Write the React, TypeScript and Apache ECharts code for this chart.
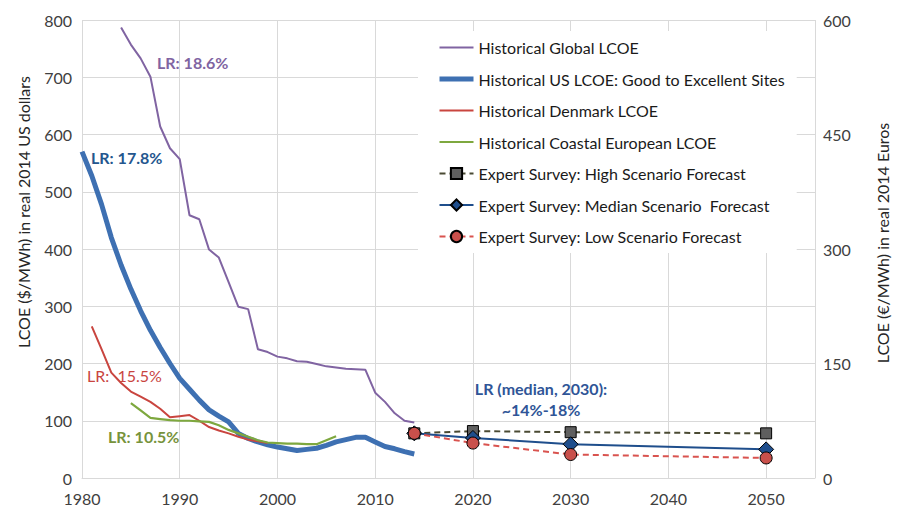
import React, { useEffect, useRef } from "react";
import * as echarts from "echarts";

const globalYears = [1984, 1985, 1986, 1987, 1988, 1989, 1990, 1991, 1992, 1993, 1994, 1995, 1996, 1997, 1998, 1999, 2000, 2001, 2002, 2003, 2004, 2005, 2006, 2007, 2008, 2009, 2010, 2011, 2012, 2013, 2014];
const globalLcoe = [787, 757, 733, 701, 614, 576, 557, 459, 452, 399, 385, 342, 299, 295, 225, 220, 212, 209, 204, 203, 199, 195, 193, 191, 190, 189, 149, 133, 113, 100, 97];

const usYears = [1980, 1981, 1982, 1983, 1984, 1985, 1986, 1987, 1988, 1989, 1990, 1991, 1992, 1993, 1994, 1995, 1996, 1997, 1998, 1999, 2000, 2001, 2002, 2003, 2004, 2005, 2006, 2007, 2008, 2009, 2010, 2011, 2012, 2013, 2014];
const usLcoe = [570, 528, 478, 420, 372, 330, 292, 258, 228, 200, 174, 155, 136, 119, 108, 98, 78, 69, 63, 58, 54, 51, 48, 50, 52, 57, 63, 67, 71, 71, 63, 55, 51, 46, 42];

const denmarkYears = [1981, 1982, 1983, 1984, 1985, 1986, 1987, 1988, 1989, 1990, 1991, 1992, 1993, 1994, 1995, 1996, 1997, 1998, 1999];
const denmarkLcoe = [265, 225, 184, 166, 151, 142, 133, 121, 106, 108, 110, 100, 89, 83, 78, 72, 67, 64, 61];

const coastalYears = [1985, 1986, 1987, 1988, 1989, 1990, 1991, 1992, 1993, 1994, 1995, 1996, 1997, 1998, 1999, 2000, 2001, 2002, 2003, 2004, 2005, 2006];
const coastalLcoe = [131, 118, 105, 103, 101, 100, 100, 99, 98, 92, 84, 78, 72, 66, 62, 61, 60, 60, 59, 59, 66, 73];

const forecastYears = [2014, 2020, 2030, 2050];
const highForecast = [78, 82, 80, 78];
const medianForecast = [78, 70, 59, 50];
const lowForecast = [78, 61, 41, 35];

const seriesNames = [
  "Historical Global LCOE",
  "Historical US LCOE: Good to Excellent Sites",
  "Historical Denmark LCOE",
  "Historical Coastal European LCOE",
  "Expert Survey: High Scenario Forecast",
  "Expert Survey: Median Scenario  Forecast",
  "Expert Survey: Low Scenario Forecast",
];

const leftAxisName = "LCOE ($/MWh) in real 2014 US dollars";
const rightAxisName = "LCOE (€/MWh) in real 2014 Euros";

const zip = (xs: number[], ys: number[]) => xs.map((x, i) => [x, ys[i]]);

const FONT = "Lato, 'Noto Sans', sans-serif";

function txt(text: string, x: number, y: number, color: string, bold: boolean, align = "left", rotation = 0) {
  return {
    type: "text",
    x,
    y,
    rotation,
    z: 10,
    style: {
      text,
      fill: color,
      font: `${bold ? "bold " : ""}16px ${FONT}`,
      align,
      verticalAlign: "middle",
      textAlign: align,
      textVerticalAlign: "middle",
    },
  };
}

export default function App() {
  const ref = useRef<HTMLDivElement>(null);
  useEffect(() => {
    if (!ref.current) return;
    const chart = echarts.init(ref.current, null, { renderer: "svg" });
    const axisLabelStyle = { color: "#404040", fontSize: 16, fontFamily: FONT };
    const lineWidths = [2, 5, 2, 2.2];
    chart.setOption({
      animation: false,
      backgroundColor: "#ffffff",
      textStyle: { fontFamily: FONT },
      grid: { left: 82, right: 85, top: 20, bottom: 44, containLabel: false },
      xAxis: {
        type: "value",
        min: 1980,
        max: 2055,
        interval: 10,
        axisLine: { show: true, lineStyle: { color: "#D9D9D9" } },
        axisTick: { show: false },
        splitLine: { show: true, lineStyle: { color: "#D9D9D9", width: 1 } },
        axisLabel: {
          ...axisLabelStyle,
          margin: 12,
          showMaxLabel: false,
          formatter: (v: number) => (v % 10 === 0 ? String(v) : ""),
        },
      },
      yAxis: [
        {
          type: "value",
          min: 0,
          max: 800,
          interval: 100,
          position: "left",
          axisLine: { show: false },
          axisTick: { show: false },
          splitLine: { show: true, lineStyle: { color: "#D9D9D9", width: 1 } },
          axisLabel: { ...axisLabelStyle, margin: 10 },
        },
        {
          type: "value",
          min: 0,
          max: 600,
          interval: 150,
          position: "right",
          axisLine: { show: false },
          axisTick: { show: false },
          splitLine: { show: false },
          axisLabel: { ...axisLabelStyle, margin: 8 },
        },
      ],
      legend: {
        orient: "vertical",
        left: 418,
        top: 31,
        padding: [8, 12, 8, 19],
        backgroundColor: "#ffffff",
        itemWidth: 34,
        itemHeight: 14,
        itemGap: 14.5,
        selectedMode: false,
        textStyle: { color: "#1a1a1a", fontSize: 16, fontFamily: FONT, lineHeight: 17 },
        data: seriesNames.map((name, i) =>
          i < 4
            ? { name, itemStyle: { opacity: 0 }, lineStyle: { width: lineWidths[i] } }
            : { name }
        ),
      },
      series: [
        {
          name: seriesNames[0],
          type: "line",
          symbol: "none",
          data: zip(globalYears, globalLcoe),
          lineStyle: { color: "#8064A2", width: lineWidths[0] },
          itemStyle: { color: "#8064A2" },
        },
        {
          name: seriesNames[1],
          type: "line",
          symbol: "none",
          data: zip(usYears, usLcoe),
          lineStyle: { color: "#3E70B2", width: lineWidths[1] },
          itemStyle: { color: "#3E70B2" },
        },
        {
          name: seriesNames[2],
          type: "line",
          symbol: "none",
          data: zip(denmarkYears, denmarkLcoe),
          lineStyle: { color: "#C9453F", width: lineWidths[2] },
          itemStyle: { color: "#C9453F" },
        },
        {
          name: seriesNames[3],
          type: "line",
          symbol: "none",
          data: zip(coastalYears, coastalLcoe),
          lineStyle: { color: "#7EA83F", width: lineWidths[3] },
          itemStyle: { color: "#7EA83F" },
        },
        {
          name: seriesNames[4],
          type: "line",
          symbol: "rect",
          symbolSize: 11,
          data: zip(forecastYears, highForecast),
          lineStyle: { color: "#4A4A33", width: 2, type: [6, 4] },
          itemStyle: { color: "#5F5F5F", borderColor: "#000000", borderWidth: 1 },
        },
        {
          name: seriesNames[5],
          type: "line",
          symbol: "diamond",
          symbolSize: 15,
          data: zip(forecastYears, medianForecast),
          lineStyle: { color: "#1F4E8C", width: 2 },
          itemStyle: { color: "#1F4E8C", borderColor: "#000000", borderWidth: 1 },
        },
        {
          name: seriesNames[6],
          type: "line",
          symbol: "circle",
          symbolSize: 12,
          data: zip(forecastYears, lowForecast),
          lineStyle: { color: "#D9534F", width: 2, type: [6, 4] },
          itemStyle: { color: "#C9504B", borderColor: "#000000", borderWidth: 1 },
        },
      ],
      graphic: [
        txt("LR: 18.6%", 157, 62, "#8064A2", true),
        txt("LR: 17.8%", 91, 157, "#24568E", true),
        txt("LR:  15.5%", 87, 375, "#C9453F", false),
        txt("LR: 10.5%", 108, 436, "#77933C", true),
        txt("LR (median, 2030):", 541, 388, "#2F5597", true, "center"),
        txt("~14%-18%", 541, 409, "#2F5597", true, "center"),
        {
          type: "text",
          x: 23,
          y: 212,
          rotation: Math.PI / 2,
          style: {
            text: leftAxisName,
            fill: "#262626",
            font: `16px ${FONT}`,
            align: "center",
            verticalAlign: "middle",
            textAlign: "center",
            textVerticalAlign: "middle",
          },
        },
        {
          type: "text",
          x: 882,
          y: 243,
          rotation: Math.PI / 2,
          style: {
            text: rightAxisName,
            fill: "#262626",
            font: `16px ${FONT}`,
            align: "center",
            verticalAlign: "middle",
            textAlign: "center",
            textVerticalAlign: "middle",
          },
        },
      ],
    });
    return () => chart.dispose();
  }, []);
  return <div ref={ref} style={{ width: 900, height: 522, position: "absolute", left: 0, top: 0 }} />;
}
